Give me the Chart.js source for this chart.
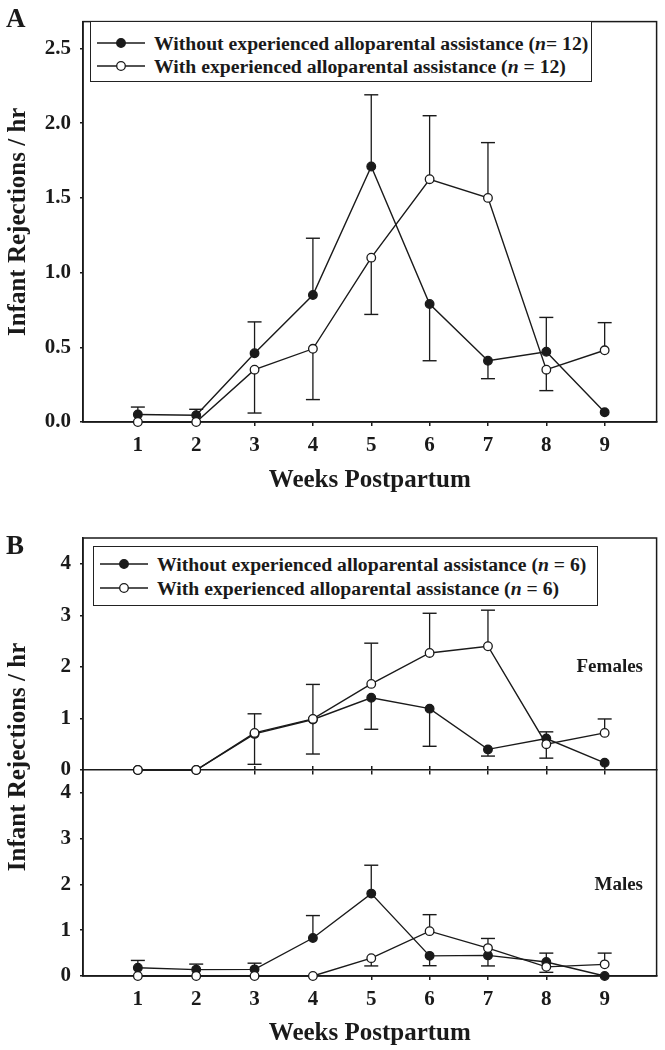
<!DOCTYPE html>
<html>
<head>
<meta charset="utf-8">
<script src="https://cdn.jsdelivr.net/npm/chart.js@4.4.1/dist/chart.umd.min.js"></script>
<style>
  body { margin: 0; background: #fff; }
  #page { position: relative; width: 665px; height: 1050px; overflow: hidden;
          font-family: "Liberation Serif", "Times New Roman", serif; font-weight: bold; color: #1a1a1a; }
  .wrap { position: absolute; left: 0; width: 665px; }
  .letter { position: absolute; left: 6px; font-size: 27px; line-height: 27px; }
  .legend { position: absolute; border: 1.5px solid #222; box-sizing: border-box; background: #fff; }
  .legend .row { position: absolute; left: 0; height: 24px; line-height: 24px; font-size: 19.7px; white-space: nowrap; }
  .legend svg { position: absolute; top: 6px; }
  .legend span { position: absolute; top: 0; }
  .note { position: absolute; font-size: 19px; line-height: 20px; white-space: nowrap; }
</style>
</head>
<body>
<div id="page">
  <div class="wrap" style="top:0;height:500px"><canvas id="chartA" width="665" height="500"></canvas></div>
  <div class="wrap" style="top:505px;height:545px"><canvas id="chartB" width="665" height="545"></canvas></div>
  <div class="letter" style="top:5px">A</div>
  <div class="letter" style="top:532px">B</div>
  <div class="legend" id="legendA" style="left:90px;top:21px;width:502px;height:61px"></div>
  <div class="legend" id="legendB" style="left:93px;top:546px;width:505px;height:60px"></div>
  <div class="note" id="noteF" style="right:22px;top:656px"></div>
  <div class="note" id="noteM" style="right:22px;top:874px"></div>
</div>
<script>
// weeks postpartum
const weeks = [1, 2, 3, 4, 5, 6, 7, 8, 9];

// panel A: mean and end of the error bar (null = no bar)
const aWithout    = [0.05, 0.045, 0.46, 0.85, 1.71, 0.79, 0.41, 0.47, 0.065];
const aWithoutErr = [0.10, 0.085, 0.67, 1.23, 2.19, 0.41, 0.29, 0.70, null];
const aWith       = [0, 0, 0.35, 0.49, 1.10, 1.625, 1.50, 0.35, 0.48];
const aWithErr    = [null, null, 0.06, 0.15, 0.72, 2.05, 1.87, 0.21, 0.665];

// panel B, females
const fWithout    = [0, 0, 0.70, 0.98, 1.40, 1.19, 0.40, 0.61, 0.14];
const fWithoutErr = [null, null, 1.09, 0.31, 0.79, 0.46, 0.27, 0.74, null];
const fWith       = [0, 0, 0.72, 0.99, 1.67, 2.27, 2.40, 0.50, 0.72];
const fWithErr    = [null, null, 0.11, 1.66, 2.46, 3.04, 3.10, 0.23, 0.99];

// panel B, males
const mWithout    = [0.18, 0.14, 0.145, 0.83, 1.80, 0.44, 0.45, 0.305, 0];
const mWithoutErr = [0.34, 0.26, 0.28, 1.32, 2.42, 0.225, 0.22, 0.50, null];
const mWith       = [0, 0, 0, 0, 0.39, 0.98, 0.61, 0.20, 0.255];
const mWithErr    = [null, null, null, null, 0.22, 1.34, 0.82, 0.08, 0.50];

const legendA = ['Without experienced alloparental assistance (<i>n</i>= 12)',
                 'With experienced alloparental assistance (<i>n</i> = 12)'];
const legendB = ['Without experienced alloparental assistance (<i>n</i> = 6)',
                 'With experienced alloparental assistance (<i>n</i> = 6)'];
const panelNotes = ['Females', 'Males'];
const xTitle = 'Weeks Postpartum';
const yTitle = 'Infant Rejections / hr';

const FONT = 'Liberation Serif';
const INK = '#1a1a1a';

function pts(vals) {
  return weeks.map((w, i) => ({ x: w, y: vals[i] }));
}

function lineSet(label, vals, filled, yAxisID) {
  return {
    label: label, data: pts(vals), showLine: true, yAxisID: yAxisID,
    borderColor: INK, borderWidth: 1.4,
    pointRadius: 4.3, pointBorderWidth: 1.3,
    pointBackgroundColor: filled ? INK : '#fff', pointBorderColor: INK,
    order: filled ? 2 : 1, clip: false
  };
}

// one small line dataset per error bar, capped with a 'line' point
function errorSets(vals, ends, yAxisID) {
  const sets = [];
  weeks.forEach((w, i) => {
    if (ends[i] == null) return;
    sets.push({
      data: [{ x: w, y: vals[i] }, { x: w, y: ends[i] }], showLine: true, yAxisID: yAxisID,
      borderColor: INK, borderWidth: 1.3,
      pointStyle: 'line', pointRadius: [0, 7], pointBorderColor: INK, pointBorderWidth: 1.4,
      order: 3, clip: false
    });
  });
  return sets;
}

const tickFont = { family: FONT, size: 21, weight: 'bold' };
const titleFont = { family: FONT, size: 25, weight: 'bold' };

const framePlugin = {
  id: 'frame',
  beforeDatasetsDraw(chart) {
    const a = chart.chartArea, ctx = chart.ctx;
    ctx.save();
    ctx.strokeStyle = INK;
    ctx.lineWidth = 1.5;
    ctx.strokeRect(a.left, a.top, a.right - a.left, a.bottom - a.top);
    ctx.restore();
  }
};

function xScale(h, padBottom) {
  return {
    type: 'linear', min: 0.06, max: 9.89,
    afterFit: s => { s.height = h; },
    border: { color: INK, width: 1.5 },
    grid: { drawOnChartArea: false, tickLength: 4, color: INK, lineWidth: 1.5 },
    ticks: { stepSize: 1, includeBounds: false, padding: 7, color: INK, font: tickFont, autoSkip: false },
    title: { display: true, text: xTitle, color: INK, font: titleFont, padding: { top: 0, bottom: padBottom } }
  };
}

function yScale(max, step, fmt, extra) {
  return Object.assign({
    type: 'linear', position: 'left', min: 0, max: max,
    border: { color: INK, width: 1.5 },
    grid: { drawOnChartArea: false, tickLength: 3, color: INK, lineWidth: 1.5 },
    ticks: { stepSize: step, includeBounds: false, padding: 9, color: INK, font: tickFont, autoSkip: false,
             callback: fmt }
  }, extra);
}

const common = {
  responsive: false, animation: false, events: [],
  plugins: { legend: { display: false }, tooltip: { enabled: false } }
};

// ---- panel A ----
new Chart(document.getElementById('chartA'), {
  type: 'scatter',
  data: {
    datasets: [
      lineSet('Without', aWithout, true, 'y'),
      lineSet('With', aWith, false, 'y')
    ].concat(errorSets(aWithout, aWithoutErr, 'y'), errorSets(aWith, aWithErr, 'y'))
  },
  options: Object.assign({}, common, {
    layout: { padding: { top: 17, right: 8, left: 0, bottom: 0 } },
    scales: {
      x: xScale(78, 4),
      y: yScale(2.68, 0.5, v => v.toFixed(1), {
        afterFit: s => { s.width = 83; },
        title: { display: true, text: yTitle, color: INK, font: titleFont, padding: { top: 4, bottom: 0 } }
      })
    }
  }),
  plugins: [framePlugin]
});

// ---- panel B (males stacked under females) ----
const intFmt = v => String(v);
new Chart(document.getElementById('chartB'), {
  type: 'scatter',
  data: {
    datasets: [
      lineSet('Without', fWithout, true, 'yF'),
      lineSet('With', fWith, false, 'yF'),
      lineSet('Without', mWithout, true, 'yM'),
      lineSet('With', mWith, false, 'yM')
    ].concat(errorSets(fWithout, fWithoutErr, 'yF'), errorSets(fWith, fWithErr, 'yF'),
             errorSets(mWithout, mWithoutErr, 'yM'), errorSets(mWith, mWithErr, 'yM'))
  },
  options: Object.assign({}, common, {
    layout: { padding: { top: 33, right: 8, left: 0, bottom: 0 } },
    scales: {
      x: xScale(74, 1.5),
      yM: yScale(4.5, 1, intFmt, { stack: 'b', stackWeight: 206, afterFit: s => { s.width = 47; } }),
      yF: yScale(4.5, 1, intFmt, { stack: 'b', stackWeight: 232, afterFit: s => { s.width = 47; } }),
      yT: {
        type: 'linear', position: 'left', weight: 5, min: 0, max: 1,
        afterFit: s => { s.width = 36; },
        ticks: { display: false }, grid: { display: false }, border: { display: false },
        title: { display: true, text: yTitle, color: INK, font: titleFont, padding: { top: 4, bottom: 0 } }
      },
      xF1: {
        type: 'linear', position: { yF: 0 }, min: 0.06, max: 9.89,
        afterFit: s => { s.height = 0; },
        ticks: { display: false, stepSize: 1, includeBounds: false },
        grid: { drawOnChartArea: false, tickLength: 4, color: INK, lineWidth: 1.5 },
        border: { display: true, color: INK, width: 1.5 }
      },
      xF2: {
        type: 'linear', position: { yF: 0 }, min: 0.06, max: 9.89,
        afterFit: s => { s.height = 0; },
        ticks: { display: false, stepSize: 1, includeBounds: false },
        grid: { drawOnChartArea: false, tickLength: -4, color: INK, lineWidth: 1.5 },
        border: { display: false }
      }
    }
  }),
  plugins: [framePlugin]
});

// ---- legends and panel notes ----
function marker(filled) {
  return '<svg width="48" height="12" style="left:6px"><line x1="0" y1="6" x2="48" y2="6" stroke="' + INK +
    '" stroke-width="1.4"/><circle cx="24" cy="6" r="4.3" fill="' + (filled ? INK : '#fff') +
    '" stroke="' + INK + '" stroke-width="1.3"/></svg>';
}
function fillLegend(id, labels, rowTops) {
  const el = document.getElementById(id);
  labels.forEach((txt, i) => {
    const row = document.createElement('div');
    row.className = 'row';
    row.style.top = rowTops[i] + 'px';
    row.innerHTML = marker(i === 0) + '<span style="left:63px">' + txt + '</span>';
    el.appendChild(row);
  });
}
fillLegend('legendA', legendA, [9, 32]);
fillLegend('legendB', legendB, [5, 29]);
document.getElementById('noteF').textContent = panelNotes[0];
document.getElementById('noteM').textContent = panelNotes[1];
</script>
</body>
</html>
